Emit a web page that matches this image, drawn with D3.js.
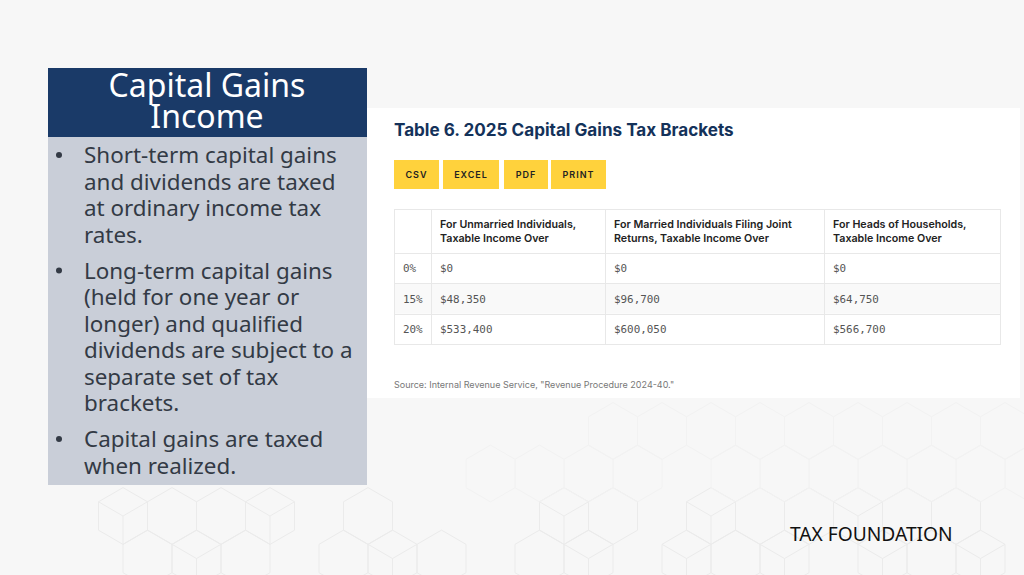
<!DOCTYPE html>
<html>
<head>
<meta charset="utf-8">
<script src="https://cdn.jsdelivr.net/npm/d3@7"></script>
<style>
  html, body { margin: 0; padding: 0; background: #f7f7f7; overflow: hidden; }
  svg { display: block; }
</style>
</head>
<body>
<div id="slide"></div>
<script>
// Table data
var tableTitle = "Table 6. 2025 Capital Gains Tax Brackets";
var buttons = ["CSV", "EXCEL", "PDF", "PRINT"];
var columnHeads = [
  ["For Unmarried Individuals,", "Taxable Income Over"],
  ["For Married Individuals Filing Joint", "Returns, Taxable Income Over"],
  ["For Heads of Households,", "Taxable Income Over"]
];
var rates = ["0%", "15%", "20%"];
var unmarried = ["$0", "$48,350", "$533,400"];
var married = ["$0", "$96,700", "$600,050"];
var heads = ["$0", "$64,750", "$566,700"];
var source = "Source: Internal Revenue Service, \"Revenue Procedure 2024-40.\"";

// Slide text
var panelTitle = ["Capital Gains", "Income"];
var bullets = [
  ["Short-term capital gains", "and dividends are taxed", "at ordinary income tax", "rates."],
  ["Long-term capital gains", "(held for one year or", "longer) and qualified", "dividends are subject to a", "separate set of tax", "brackets."],
  ["Capital gains are taxed", "when realized."]
];
var footer = "TAX FOUNDATION";

var svg = d3.select("#slide")
  .append("svg")
  .attr("width", 1024)
  .attr("height", 575);

svg.append("rect").attr("width", 1024).attr("height", 575).attr("fill", "#f7f7f7");

// Background cube pattern, faint hexagons along the bottom
var hexW = 49, hexS = 14.2;
var hexX = function(col, row) { return 123 + col * hexW + (row % 2 ? -hexW / 2 : 0); };
var hexY = function(row) { return 516 + row * 42.5; };
var hexLine = d3.line();
var bg = svg.append("g").attr("fill", "none").attr("stroke", "#ebebeb").attr("stroke-width", 1);

function drawHex(g, col, row) {
  var cx = hexX(col, row), cy = hexY(row);
  g.append("path")
    .attr("d", hexLine([
      [cx, cy - hexS * 2], [cx + hexW / 2, cy - hexS], [cx + hexW / 2, cy + hexS],
      [cx, cy + hexS * 2], [cx - hexW / 2, cy + hexS], [cx - hexW / 2, cy - hexS]
    ]) + "Z");
}
function drawCube(g, col, row) {
  var cx = hexX(col, row), cy = hexY(row);
  drawHex(g, col, row);
  g.append("path").attr("d", hexLine([[cx - hexW / 2, cy - hexS], [cx, cy], [cx + hexW / 2, cy - hexS]]));
  g.append("path").attr("d", hexLine([[cx, cy], [cx, cy + hexS * 2]]));
}
[0, 1, 2, 3, 5, 9, 10, 12, 13, 14, 15, 16, 17].forEach(function(col) {
  (col % 3 === 0 ? drawCube : drawHex)(bg, col, 0);
});
[1, 2, 3, 5, 6, 7, 9, 10, 12, 13, 14, 16, 17, 18].forEach(function(col) {
  (col % 2 === 0 ? drawCube : drawHex)(bg, col, 1);
});
var bgUpper = svg.append("g").attr("fill", "none").attr("stroke", "#f2f2f2").attr("stroke-width", 1);
[8, 9, 10, 11, 13, 14, 15, 16, 17, 18, 19].forEach(function(col) { drawHex(bgUpper, col, -1); });
[10, 11, 12, 13, 14, 15, 16, 17, 18].forEach(function(col) { drawHex(bgUpper, col, -2); });

// Left panel
var panel = svg.append("g");
panel.append("rect").attr("x", 48).attr("y", 137).attr("width", 319).attr("height", 348).attr("fill", "#c9ced8");
panel.append("rect").attr("x", 48).attr("y", 68).attr("width", 319).attr("height", 69).attr("fill", "#1a3a68");

panel.selectAll("text.title")
  .data(panelTitle)
  .enter()
  .append("text")
  .attr("class", "title")
  .attr("x", 207)
  .attr("y", function(d, i) { return 97 + i * 31; })
  .attr("text-anchor", "middle")
  .style("font-family", "'Noto Sans', sans-serif")
  .style("font-size", "32px")
  .style("fill", "#fff")
  .text(function(d) { return d; });

var lineStep = 26.5, bulletGap = 9.5, cursorY = 163;
bullets.forEach(function(lines) {
  panel.append("circle")
    .attr("cx", 59)
    .attr("cy", cursorY - 8)
    .attr("r", 3)
    .attr("fill", "#333a45");
  lines.forEach(function(line, i) {
    panel.append("text")
      .attr("x", 84)
      .attr("y", cursorY + i * lineStep)
      .style("font-family", "'Noto Sans', sans-serif")
      .style("font-size", "22.4px")
      .style("fill", "#333a45")
      .text(line);
  });
  cursorY += lines.length * lineStep + bulletGap;
});

// White card with the table
var card = svg.append("g");
card.append("rect").attr("x", 367).attr("y", 108).attr("width", 653).attr("height", 290).attr("fill", "#fff");

card.append("text")
  .attr("x", 394)
  .attr("y", 136)
  .style("font-family", "Inter, sans-serif")
  .style("font-size", "17.1px")
  .style("font-weight", "700")
  .style("fill", "#14325a")
  .text(tableTitle);

// Buttons
var buttonX = d3.scaleOrdinal().domain(buttons).range([394, 443, 504, 551]);
var buttonW = d3.scaleOrdinal().domain(buttons).range([45, 56, 44, 55]);
var btn = card.selectAll("g.btn")
  .data(buttons)
  .enter()
  .append("g")
  .attr("class", "btn")
  .attr("transform", function(d) { return "translate(" + buttonX(d) + ",160)"; });
btn.append("rect")
  .attr("width", function(d) { return buttonW(d); })
  .attr("height", 29)
  .attr("fill", "#ffd23c");
btn.append("text")
  .attr("x", function(d) { return buttonW(d) / 2; })
  .attr("y", 18)
  .attr("text-anchor", "middle")
  .style("font-family", "Inter, sans-serif")
  .style("font-size", "9px")
  .style("font-weight", "600")
  .style("letter-spacing", "1px")
  .style("fill", "#222")
  .text(function(d) { return d; });

// Table
var colEdges = [394, 431, 605, 824, 1000];
var tableTop = 209, headBottom = 253, tableBottom = 344;
var rowY = d3.scaleBand().domain(rates).range([headBottom, tableBottom]);
var tableG = card.append("g");
var lineColor = "#e8e8e8";

tableG.append("rect")
  .attr("x", colEdges[0])
  .attr("y", rowY("15%"))
  .attr("width", colEdges[4] - colEdges[0])
  .attr("height", rowY.bandwidth())
  .attr("fill", "#f9f9f9");

colEdges.forEach(function(x) {
  tableG.append("line")
    .attr("x1", x + 0.5).attr("x2", x + 0.5)
    .attr("y1", tableTop).attr("y2", tableBottom)
    .attr("stroke", lineColor);
});
[tableTop, headBottom].concat(rates.map(function(r) { return rowY(r) + rowY.bandwidth(); })).forEach(function(y) {
  tableG.append("line")
    .attr("x1", colEdges[0]).attr("x2", colEdges[4] + 1)
    .attr("y1", Math.round(y) + 0.5).attr("y2", Math.round(y) + 0.5)
    .attr("stroke", lineColor);
});

columnHeads.forEach(function(lines, c) {
  lines.forEach(function(line, i) {
    tableG.append("text")
      .attr("x", colEdges[c + 1] + 9)
      .attr("y", 228 + i * 13.5)
      .style("font-family", "Inter, sans-serif")
      .style("font-size", "10.7px")
      .style("font-weight", "600")
      .style("fill", "#222")
      .text(line);
  });
});

[rates, unmarried, married, heads].forEach(function(col, c) {
  tableG.selectAll("text.c" + c)
    .data(col)
    .enter()
    .append("text")
    .attr("class", "c" + c)
    .attr("x", colEdges[c] + 9)
    .attr("y", function(d, i) { return rowY(rates[i]) + rowY.bandwidth() / 2 + 4; })
    .style("font-family", "'DejaVu Sans Mono', monospace")
    .style("font-size", "10.9px")
    .style("fill", "#555")
    .text(function(d) { return d; });
});

card.append("text")
  .attr("x", 394)
  .attr("y", 388)
  .style("font-family", "Inter, sans-serif")
  .style("font-size", "9px")
  .style("fill", "#777")
  .text(source);

svg.append("text")
  .attr("x", 790)
  .attr("y", 541)
  .style("font-family", "'Noto Sans', sans-serif")
  .style("font-size", "19.2px")
  .style("fill", "#111")
  .text(footer);
</script>
</body>
</html>
